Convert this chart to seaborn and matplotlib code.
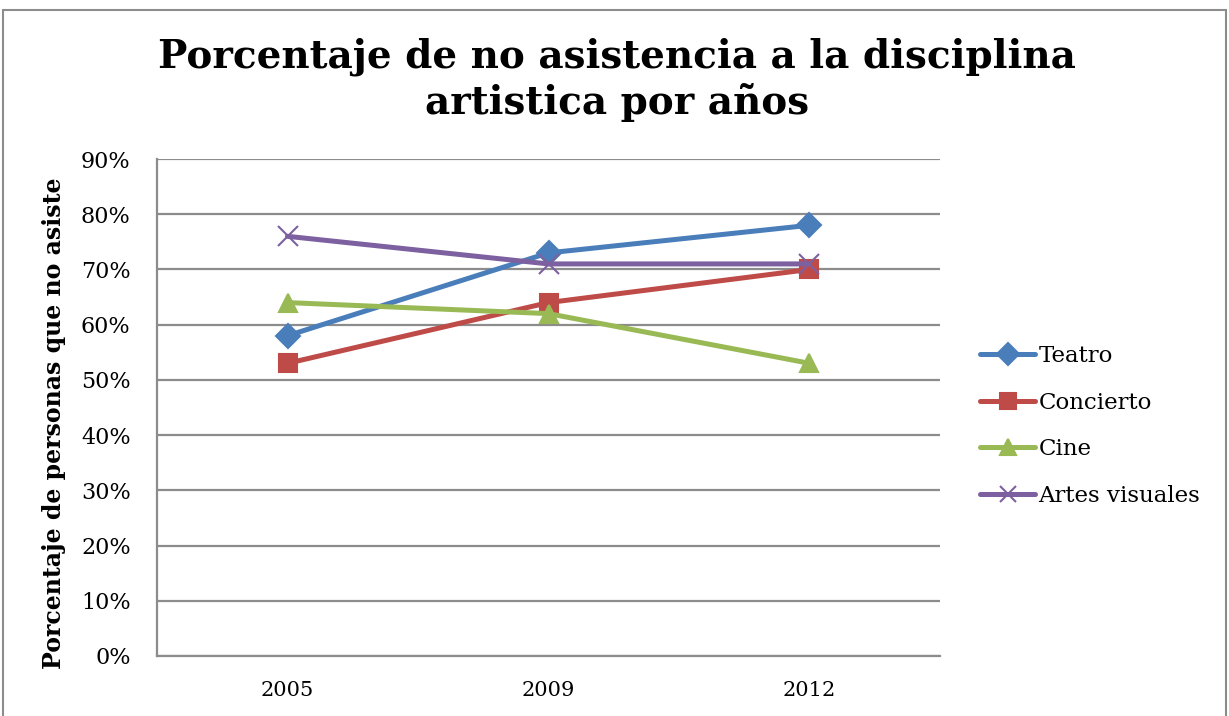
import matplotlib
matplotlib.use("Agg")
import matplotlib.pyplot as plt
import seaborn as sns
import pandas as pd
from matplotlib.patches import Rectangle
from matplotlib.lines import Line2D
from matplotlib.ticker import PercentFormatter

years = ["2005", "2009", "2012"]
teatro = [58, 73, 78]
concierto = [53, 64, 70]
cine = [64, 62, 53]
artes_visuales = [76, 71, 71]
series_names = ["Teatro", "Concierto", "Cine", "Artes visuales"]
y_ticks = [0, 10, 20, 30, 40, 50, 60, 70, 80, 90]

colors = {"Teatro": "#4A7EBB", "Concierto": "#BE4B48",
          "Cine": "#98B954", "Artes visuales": "#7D60A0"}
markers = {"Teatro": "D", "Concierto": "s", "Cine": "^", "Artes visuales": "x"}
msizes = {"Teatro": 12, "Concierto": 13, "Cine": 13, "Artes visuales": 14}

rows = []
for name, vals in zip(series_names, [teatro, concierto, cine, artes_visuales]):
    for yr, v in zip(years, vals):
        rows.append({"Año": yr, "Valor": v, "Serie": name})
df = pd.DataFrame(rows)

sns.set_style("white")
plt.rcParams["font.family"] = ["DejaVu Serif"]
plt.rcParams["text.color"] = "black"
plt.rcParams["axes.labelcolor"] = "black"

fig = plt.figure(figsize=(12.29, 7.16), dpi=100)
ax = fig.add_axes([157 / 1229, 1 - 656 / 716, (940 - 157) / 1229, (656 - 159) / 716])

# outer chart frame
fig.patches.append(Rectangle((3 / 1229, -0.05), 1223 / 1229, 1.05 - 10 / 716,
                             transform=fig.transFigure, fill=False,
                             edgecolor="#8c8c8c", linewidth=1.5))

for name in series_names:
    sub = df[df["Serie"] == name]
    sns.lineplot(data=sub, x="Año", y="Valor", color=colors[name],
                 marker=markers[name], markersize=msizes[name],
                 markeredgecolor=colors[name], markeredgewidth=1.5,
                 linewidth=3.6, sort=False, ax=ax, legend=False)

ax.set_xlim(-0.5, 2.5)
ax.set_ylim(0, 90)
ax.set_yticks(y_ticks)
ax.yaxis.set_major_formatter(PercentFormatter(decimals=0))
ax.grid(axis="y", color="#8c8c8c", linewidth=1.6)
ax.grid(axis="x", visible=False)
ax.set_axisbelow(True)
for side in ["top", "right"]:
    ax.spines[side].set_visible(False)
for side in ["left", "bottom"]:
    ax.spines[side].set_color("#8c8c8c")
    ax.spines[side].set_linewidth(1.6)
ax.tick_params(axis="both", length=0, colors="black")
ax.tick_params(axis="y", pad=19, labelsize=16)
ax.tick_params(axis="x", pad=18, labelsize=15)
ax.set_xlabel("")
ax.set_ylabel("Porcentaje de personas que no asiste", fontsize=17,
              fontweight="bold")
ax.yaxis.set_label_coords(-0.116, 0.468)

fig.text(617 / 1229, 1 - 80 / 716,
         "Porcentaje de no asistencia a la disciplina\nartistica por años",
         ha="center", va="center", fontsize=28, fontweight="bold",
         linespacing=1.22, color="black")

handles = []
for name in series_names:
    handles.append(Line2D([], [], color=colors[name], linewidth=3.6,
                          marker=markers[name], markersize=11,
                          markeredgecolor=colors[name], markeredgewidth=1.5))
fig.legend(handles, series_names, loc="center left",
           bbox_to_anchor=(980 / 1229, 1 - 426 / 716), frameon=False,
           fontsize=16.5, handlelength=2.4, handletextpad=0.15,
           labelspacing=1.07, borderaxespad=0, borderpad=0)

fig.savefig("out.png", dpi=100)
